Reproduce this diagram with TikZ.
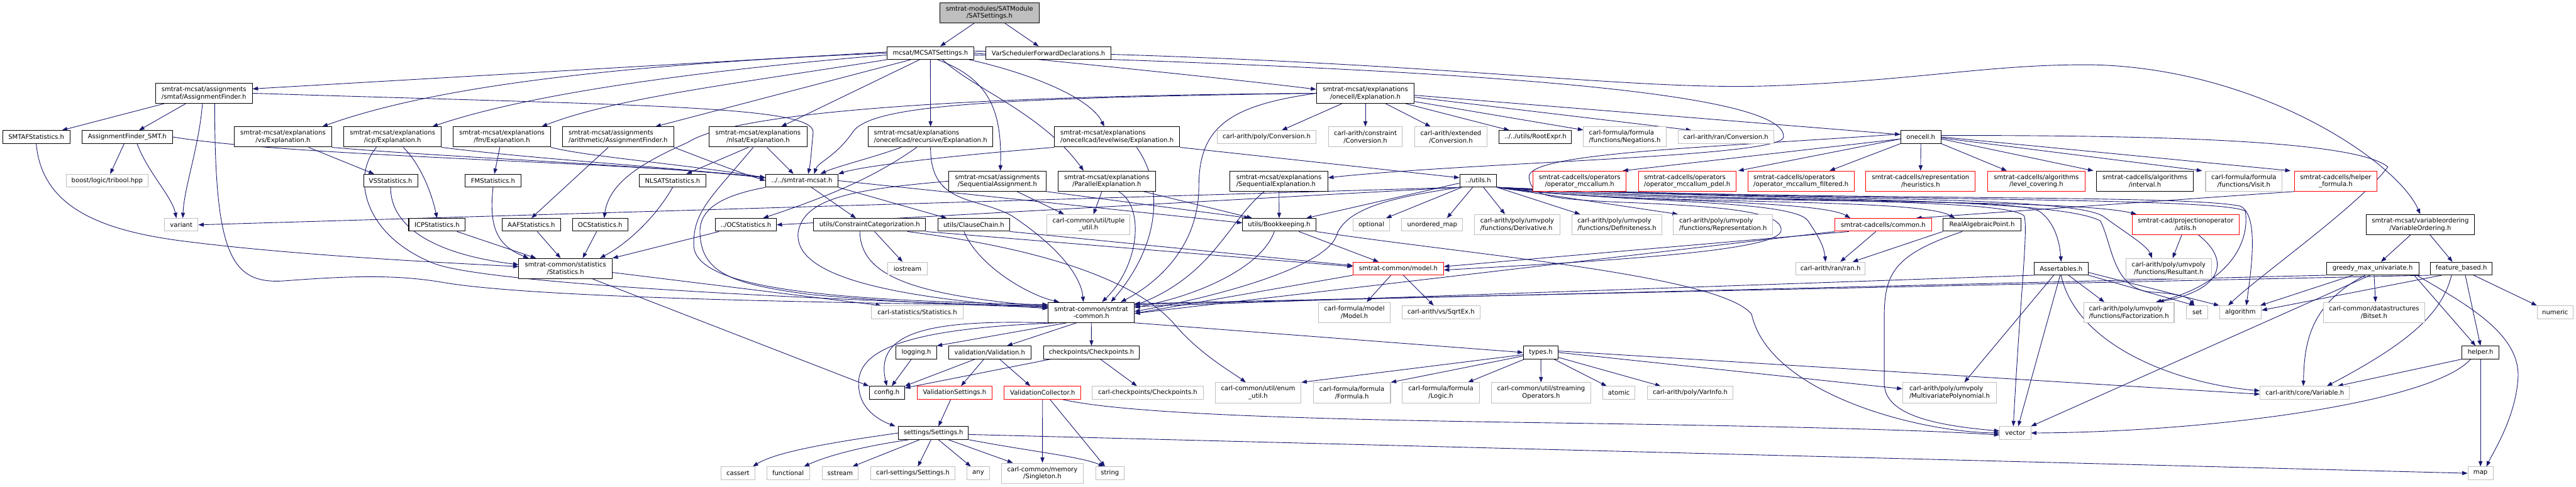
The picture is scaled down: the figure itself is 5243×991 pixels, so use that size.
\documentclass[tikz,border=0pt]{standalone}
\usepackage{fontspec}
\setmainfont{DejaVu Sans}
\usetikzlibrary{arrows.meta}
\pgfdeclarelayer{back}
\pgfdeclarelayer{bg}
\pgfsetlayers{back,bg,main}
\definecolor{edgec}{HTML}{191970}
\definecolor{grayb}{HTML}{BFBFBF}
\begin{document}
\begin{tikzpicture}[x=1bp,y=-1bp,
 every node/.style={font=\fontsize{12.9bp}{15bp}\selectfont, inner sep=1bp, align=center, fill=white},
 bn/.style={draw=black, line width=1.3bp},
 gn/.style={draw=grayb, line width=1.3bp},
 rn/.style={draw=red, line width=1.3bp},
 wd/.style={minimum width=#1bp},
 ht/.style={minimum height=#1bp},
 al/.style={align=left},
 edg/.style={draw=edgec, line width=1.15bp, -{Triangle[length=11bp,width=8bp]}}
]
\useasboundingbox (0,0) rectangle (5243,991);
\begin{pgfonlayer}{back}
\fill[white] (0,0) rectangle (5243,991);
\end{pgfonlayer}
% ---------- nodes ----------
\node[bn,fill=grayb,wd=202,ht=41] (sat) at (2014,26) {smtrat-modules/SATModule\\/SATSettings.h};
\node[bn,wd=177,ht=26] (mcs) at (1893.6,108) {mcsat/MCSATSettings.h};
\node[bn,wd=254,ht=26] (vsf) at (2134,108) {VarSchedulerForwardDeclarations.h};
\node[bn,wd=197,ht=41] (afs) at (415,190) {smtrat-mcsat/assignments\\/smtaf/AssignmentFinder.h};
\node[bn,wd=199,ht=41] (oce) at (2779,190) {smtrat-mcsat/explanations\\/onecell/Explanation.h};
% row 3
\node[bn,wd=137,ht=26] (smtafst) at (73.7,279) {SMTAFStatistics.h};
\node[bn,wd=184,ht=26] (afsmt) at (259,279) {AssignmentFinder\_SMT.h};
\node[bn,wd=198,ht=41] (vse) at (576,279) {smtrat-mcsat/explanations\\/vs/Explanation.h};
\node[bn,wd=198,ht=41] (icpe) at (799,279) {smtrat-mcsat/explanations\\/icp/Explanation.h};
\node[bn,wd=198,ht=41] (fme) at (1021.6,279) {smtrat-mcsat/explanations\\/fm/Explanation.h};
\node[bn,wd=226,ht=41,al] (aaf) at (1258,279) {smtrat-mcsat/assignments\\/arithmetic/AssignmentFinder.h};
\node[bn,wd=199,ht=41] (nle) at (1543,279) {smtrat-mcsat/explanations\\/nlsat/Explanation.h};
\node[bn,wd=253,ht=41,al] (rec) at (1894,279) {smtrat-mcsat/explanations\\/onecellcad/recursive/Explanation.h};
\node[bn,wd=255,ht=41,al] (lvl) at (2273.5,279) {smtrat-mcsat/explanations\\/onecellcad/levelwise/Explanation.h};
\node[gn,wd=202,ht=26] (pconv) at (2578,279) {carl-arith/poly/Conversion.h};
\node[gn,wd=150,ht=41] (cconv) at (2779,279) {carl-arith/constraint\\/Conversion.h};
\node[gn,wd=146,ht=41] (econv) at (2953,279) {carl-arith/extended\\/Conversion.h};
\node[bn,wd=147,ht=26] (rootexpr) at (3125,279) {../../utils/RootExpr.h};
\node[gn,wd=168,ht=41,al] (neg) at (3307,279) {carl-formula/formula\\/functions/Negations.h};
\node[gn,wd=195,ht=26] (rconv) at (3512.6,279) {carl-arith/ran/Conversion.h};
\node[bn,wd=82,ht=26] (onecell) at (3909.5,279) {onecell.h};
% row 4
\node[gn,wd=167,ht=26] (tribool) at (218,368) {boost/logic/tribool.hpp};
\node[bn,wd=110,ht=26] (vsst) at (795,368) {VSStatistics.h};
\node[bn,wd=115,ht=26] (fmst) at (1003.5,368) {FMStatistics.h};
\node[bn,wd=135,ht=26] (nlst) at (1369,368) {NLSATStatistics.h};
\node[bn,wd=147,ht=26] (smcsat) at (1632,368) {../../smtrat-mcsat.h};
\node[bn,wd=198,ht=41] (seqa) at (2030,369) {smtrat-mcsat/assignments\\/SequentialAssignment.h};
\node[bn,wd=199,ht=41] (pare) at (2252.6,369) {smtrat-mcsat/explanations\\/ParallelExplanation.h};
\node[bn,wd=199,ht=41,al] (seqe) at (2603,369) {smtrat-mcsat/explanations\\/SequentialExplanation.h};
\node[bn,wd=75,ht=26] (utils) at (3008.6,368) {../utils.h};
\node[rn,wd=190,ht=41] (mcc) at (3215,369) {smtrat-cadcells/operators\\/operator\_mccallum.h};
\node[rn,wd=198,ht=41,al] (pdel) at (3434,369) {smtrat-cadcells/operators\\/operator\_mccallum\_pdel.h};
\node[rn,wd=217,ht=41,al] (filt) at (3665.7,369) {smtrat-cadcells/operators\\/operator\_mccallum\_filtered.h};
\node[rn,wd=223,ht=41] (heur) at (3909,369) {smtrat-cadcells/representation\\/heuristics.h};
\node[rn,wd=198,ht=41] (lcov) at (4144.6,369) {smtrat-cadcells/algorithms\\/level\_covering.h};
\node[bn,wd=197,ht=41] (intv) at (4365.6,369) {smtrat-cadcells/algorithms\\/interval.h};
\node[gn,wd=156,ht=41] (visit) at (4567,369) {carl-formula/formula\\/functions/Visit.h};
\node[rn,wd=168,ht=41] (hform) at (4754,369) {smtrat-cadcells/helper\\\_formula.h};
% row 5
\node[gn,wd=68,ht=26] (variant) at (369,458) {variant};
\node[bn,wd=115,ht=26] (icpst) at (889.5,458) {ICPStatistics.h};
\node[bn,wd=119,ht=26] (aafst) at (1081.5,458) {AAFStatistics.h};
\node[bn,wd=113,ht=26] (ocst) at (1221.5,458) {OCStatistics.h};
\node[bn,wd=124,ht=26] (docst) at (1518,458) {../OCStatistics.h};
\node[bn,wd=228,ht=26] (ccat) at (1770,458) {utils/ConstraintCategorization.h};
\node[bn,wd=146,ht=26] (cchain) at (1982,458) {utils/ClauseChain.h};
\node[gn,wd=169,ht=41] (tuple) at (2215.6,457.5) {carl-common/util/tuple\\\_util.h};
\node[bn,wd=149,ht=26] (bk) at (2603.6,458) {utils/Bookkeeping.h};
\node[gn,wd=74,ht=26] (optional) at (2791,458) {optional};
\node[gn,wd=124,ht=26] (umap) at (2915,458) {unordered\_map};
\node[gn,wd=174,ht=41,al] (deriv) at (3088,457.5) {carl-arith/poly/umvpoly\\/functions/Derivative.h};
\node[gn,wd=182,ht=41,al] (defin) at (3291,457.5) {carl-arith/poly/umvpoly\\/functions/Definiteness.h};
\node[gn,wd=202,ht=41,al] (repr) at (3507,457.5) {carl-arith/poly/umvpoly\\/functions/Representation.h};
\node[rn,wd=196,ht=26] (ccommon) at (3833,458) {smtrat-cadcells/common.h};
\node[bn,wd=158,ht=26] (rap) at (4034,458) {RealAlgebraicPoint.h};
\node[rn,wd=217,ht=41] (projutils) at (4448.5,457.5) {smtrat-cad/projectionoperator\\/utils.h};
\node[bn,wd=221,ht=41] (vord) at (4926,457.5) {smtrat-mcsat/variableordering\\/VariableOrdering.h};
% row 6
\node[bn,wd=190,ht=41] (stats) at (1151,547) {smtrat-common/statistics\\/Statistics.h};
\node[gn,wd=80,ht=26] (iostream) at (1847,547) {iostream};
\node[rn,wd=184,ht=26] (model) at (2846,547) {smtrat-common/model.h};
\node[gn,wd=141,ht=26] (ran) at (3725.6,547) {carl-arith/ran/ran.h};
\node[bn,wd=110,ht=26] (assert) at (4195,547) {Assertables.h};
\node[gn,wd=175,ht=41] (result) at (4414,547) {carl-arith/poly/umvpoly\\/functions/Resultant.h};
\node[bn,wd=188,ht=26] (greedy) at (4829,547) {greedy\_max\_univariate.h};
\node[bn,wd=126,ht=26] (feat) at (5009.6,547) {feature\_based.h};
% row 7
\node[gn,wd=186,ht=26] (cstat) at (1867,636) {carl-statistics/Statistics.h};
\node[bn,wd=175,ht=41] (scommon) at (2221,636.5) {smtrat-common/smtrat\\-common.h};
\node[gn,wd=145,ht=41] (cmodel) at (2756.6,636.5) {carl-formula/model\\/Model.h};
\node[gn,wd=158,ht=26] (sqrt) at (2933,636) {carl-arith/vs/SqrtEx.h};
\node[gn,wd=184,ht=41,al] (fact) at (4333,636.5) {carl-arith/poly/umvpoly\\/functions/Factorization.h};
\node[gn,wd=43,ht=26] (set) at (4472,636) {set};
\node[gn,wd=85,ht=26] (algo) at (4560,636) {algorithm};
\node[gn,wd=206,ht=41] (bitset) at (4832,636.5) {carl-common/datastructures\\/Bitset.h};
\node[gn,wd=73,ht=26] (numeric) at (5200.5,636) {numeric};
% row 8
\node[bn,wd=82,ht=26] (logging) at (1865,718) {logging.h};
\node[bn,wd=167,ht=26] (valid) at (2014.5,718) {validation/Validation.h};
\node[bn,wd=195,ht=26] (chk) at (2221.6,718) {checkpoints/Checkpoints.h};
\node[bn,wd=71,ht=26] (types) at (3136,718) {types.h};
\node[bn,wd=75,ht=26] (helper) at (5048.6,718) {helper.h};
% row 9
\node[bn,wd=72,ht=26] (config) at (1805,800) {config.h};
\node[rn,wd=152,ht=26] (vsett) at (1943,800) {ValidationSettings.h};
\node[rn,wd=156,ht=26] (vcoll) at (2122,800) {ValidationCollector.h};
\node[gn,wd=226,ht=26] (cchk) at (2336,800) {carl-checkpoints/Checkpoints.h};
\node[gn,wd=175,ht=41] (enum) at (2560.6,800) {carl-common/util/enum\\\_util.h};
\node[gn,wd=157,ht=41] (formula) at (2751.6,800) {carl-formula/formula\\/Formula.h};
\node[gn,wd=157,ht=41] (logic) at (2932.6,800) {carl-formula/formula\\/Logic.h};
\node[gn,wd=203,ht=41] (stream) at (3136.6,800) {carl-common/util/streaming\\Operators.h};
\node[gn,wd=66,ht=26] (atomic) at (3295,800) {atomic};
\node[gn,wd=175,ht=26] (varinfo) at (3440,800) {carl-arith/poly/VarInfo.h};
\node[gn,wd=191,ht=41,al] (mvpoly) at (3968,800) {carl-arith/poly/umvpoly\\/MultivariatePolynomial.h};
\node[gn,wd=182,ht=26] (variable) at (4691,800) {carl-arith/core/Variable.h};
% row 10
\node[bn,wd=142,ht=26] (settings) at (1900,882) {settings/Settings.h};
\node[gn,wd=63,ht=26] (vector) at (4101.7,882) {vector};
% row 11
\node[gn,wd=69,ht=26] (cassert) at (1502,964) {cassert};
\node[gn,wd=87,ht=26] (functional) at (1604,964) {functional};
\node[gn,wd=74,ht=26] (sstream) at (1710,964) {sstream};
\node[gn,wd=172,ht=26] (csett) at (1858,964) {carl-settings/Settings.h};
\node[gn,wd=47,ht=26] (any) at (1991,964) {any};
\node[gn,wd=167,ht=41] (singleton) at (2121.6,964) {carl-common/memory\\/Singleton.h};
\node[gn,wd=58,ht=26] (string) at (2259,964) {string};
\node[gn,wd=51,ht=26] (map) at (5048.6,964) {map};

% ---------- edges ----------
\begin{pgfonlayer}{bg}
% top
\draw[edg] (sat) -- (mcs);
\draw[edg] (sat) -- (vsf);
% MCSATSettings
\draw[edg] ([yshift=2bp]mcs.west) -- ([yshift=9bp]afs.east);
\draw[edg] (mcs.west) .. controls (1300,130) and (900,170) .. ([xshift=80bp]vse.north);
\draw[edg] ([yshift=-4bp]mcs.west) .. controls (1350,150) and (1050,200) .. ([xshift=81bp]icpe.north);
\draw[edg] (mcs.south west) .. controls (1500,170) and (1250,200) .. ([xshift=81bp]fme.north);
\draw[edg] ([xshift=-40bp]mcs.south) -- ([xshift=76bp]aaf.north);
\draw[edg] ([xshift=-22bp]mcs.south) -- ([xshift=47bp]nle.north);
\draw[edg] (mcs.south) -- (rec.north);
\draw[edg] ([xshift=15bp]mcs.south) .. controls (2010,160) and (2040,220) .. ([xshift=6bp]seqa.north);
\draw[edg] ([xshift=25bp]mcs.south) .. controls (1980,180) and (2120,230) .. ([xshift=-47bp]pare.north);
\draw[edg] ([xshift=-10bp]mcs.south east) .. controls (2100,150) and (2220,200) .. ([xshift=-26bp]lvl.north);
\draw[edg] (mcs.east) .. controls (2200,130) and (2500,160) .. ([yshift=8bp]oce.west);
\draw[edg] ([yshift=-4bp]mcs.east) .. controls (2900,140) and (3640,180) .. (3630,280) .. controls (3620,320) and (3000,330) .. ([yshift=7bp]seqe.east);
\draw[edg] ([yshift=4bp]mcs.east) .. controls (2900,120) and (3300,185) .. (3600,175) .. controls (3900,165) and (4050,130) .. (4260,132) .. controls (4600,140) and (4880,330) .. (vord.north);
% smtaf AssignmentFinder
\draw[edg] (afs) -- (smtafst);
\draw[edg] (afs) -- (afsmt);
\draw[edg] ([xshift=-3bp]afs.south) .. controls (405,300) and (375,380) .. ([xshift=3bp]variant.north);
\draw[edg] ([xshift=22bp]afs.south) .. controls (437,520) and (470,580) .. (580,572) .. controls (700,563) and (800,558) .. (900,575) .. controls (1100,610) and (1800,618) .. ([yshift=14bp]scommon.west);
\draw[edg] (afs.east) .. controls (1300,215) and (1660,215) .. (1655,270) .. controls (1652,300) and (1650,330) .. ([xshift=13bp]smcsat.north);
\draw[edg] (smtafst.south) .. controls (85,420) and (200,470) .. (380,492) .. controls (600,520) and (900,535) .. ([yshift=4bp]stats.west);
% AssignmentFinder_SMT
\draw[edg] (afsmt) -- (tribool);
\draw[edg] ([xshift=20bp]afsmt.south) .. controls (300,350) and (350,400) .. ([xshift=-10bp]variant.north);
\draw[edg] (afsmt.east) .. controls (600,320) and (1300,330) .. ([yshift=6bp]smcsat.west);
% vs icp fm aaf
\draw[edg] (vse) -- (vsst);
\draw[edg] (vse.south east) .. controls (900,320) and (1300,335) .. ([yshift=6bp]smcsat.west);
\draw[edg] ([xshift=22bp]icpe.south) .. controls (860,340) and (880,400) .. (icpst.north);
\draw[edg] ([xshift=-33bp]icpe.south) .. controls (715,360) and (740,480) .. (884,537) .. controls (1000,580) and (1700,612) .. ([yshift=12bp]scommon.west);
\draw[edg] (icpe.south east) .. controls (1100,325) and (1300,335) .. ([yshift=6bp]smcsat.west);
\draw[edg] (fme) -- (fmst);
\draw[edg] (fme.south east) .. controls (1200,320) and (1400,335) .. ([yshift=6bp]smcsat.west);
\draw[edg] ([xshift=-20bp]aaf.south) -- (aafst.north);
\draw[edg] (aaf.south east) .. controls (1450,330) and (1500,350) .. (smcsat.west);
% nlsat
\draw[edg] ([xshift=-20bp]nle.south) -- ([xshift=28bp]nlst.north);
\draw[edg] ([xshift=18bp]nle.south) -- ([xshift=-17bp]smcsat.north);
\draw[edg] ([xshift=-10bp]nle.south) .. controls (1450,400) and (1410,430) .. (1412,500) .. controls (1415,590) and (1700,612) .. ([yshift=16bp]scommon.west);
% recursive / levelwise
\draw[edg] ([xshift=-60bp]rec.south) .. controls (1780,320) and (1700,340) .. ([xshift=38bp]smcsat.north);
\draw[edg] ([xshift=-28bp]rec.south) .. controls (1780,360) and (1700,395) .. ([xshift=35bp]docst.north);
\draw[edg] (rec.south) .. controls (1893,420) and (1990,400) .. (2060,440) .. controls (2150,500) and (2200,560) .. ([xshift=-16bp]scommon.north);
\draw[edg] (lvl.south west) .. controls (1900,320) and (1750,340) .. (smcsat.north east);
\draw[edg] (lvl.south east) -- ([yshift=6bp]utils.west);
\draw[edg] ([xshift=40bp]lvl.south) .. controls (2370,380) and (2360,500) .. ([xshift=40bp]scommon.north);
% onecell Explanation
\draw[edg] (oce) -- (pconv);
\draw[edg] (oce) -- (cconv);
\draw[edg] (oce) -- (econv);
\draw[edg] (oce) -- (rootexpr);
\draw[edg] (oce) -- (neg);
\draw[edg] ([yshift=-8bp]oce.east) -- ([xshift=-70bp]rconv.north);
\draw[edg] ([yshift=-4bp]oce.east) -- ([yshift=5bp]onecell.west);
\draw[edg] (oce.west) .. controls (2000,200) and (1770,215) .. (1735,270) .. controls (1700,320) and (1665,330) .. ([xshift=25bp]smcsat.north);
\draw[edg] (oce.west) .. controls (2000,195) and (1500,225) .. (1400,290) .. controls (1310,330) and (1240,370) .. ([xshift=8bp]ocst.north);
\draw[edg] (oce.west) .. controls (2500,215) and (2440,260) .. (2440,380) .. controls (2440,520) and (2330,590) .. ([xshift=60bp]scommon.north);
% onecell.h
\draw[edg] ([yshift=-4bp]onecell.west) -- ([xshift=-8bp]mcc.north east);
\draw[edg] ([yshift=-4bp]onecell.west) -- ([xshift=104bp]pdel.north);
\draw[edg] (onecell.south west) -- ([xshift=58bp]filt.north);
\draw[edg] (onecell.south) -- (heur.north);
\draw[edg] (onecell.south east) -- ([xshift=-60bp]lcov.north);
\draw[edg] ([yshift=-4bp]onecell.east) -- ([xshift=-105bp]intv.north);
\draw[edg] ([yshift=-2bp]onecell.east) -- ([xshift=-85bp]visit.north);
\draw[edg] (onecell.east) -- ([xshift=-92bp]hform.north);
\draw[edg] ([yshift=3bp]onecell.east) .. controls (4450,275) and (4800,290) .. (4860,340) .. controls (4800,420) and (4600,560) .. ([xshift=-25bp]algo.north);
\draw[edg] ([yshift=6bp]onecell.west) .. controls (3500,300) and (3110,310) .. (3112,360) .. controls (3115,400) and (3150,405) .. (3300,412) .. controls (3500,420) and (3630,430) .. (3625,470) .. controls (3620,510) and (3300,530) .. ([yshift=-3bp]model.east);
% statistics
\draw[edg] (vsst.south) .. controls (795,470) and (900,520) .. ([yshift=8bp]stats.west);
\draw[edg] (fmst.south) .. controls (995,460) and (1010,500) .. ([xshift=-75bp]stats.north);
\draw[edg] (icpst) -- ([xshift=-60bp]stats.north);
\draw[edg] (aafst) -- ([xshift=-10bp]stats.north);
\draw[edg] (ocst) -- ([xshift=35bp]stats.north);
\draw[edg] (nlst.south) .. controls (1330,450) and (1270,500) .. ([xshift=70bp]stats.north);
\draw[edg] (docst) -- (stats.north east);
\draw[edg] ([yshift=-8bp]stats.east) -- ([xshift=20bp]cstat.north west);
\draw[edg] ([xshift=55bp]stats.south) -- (config.north west);
% smtrat-mcsat.h
\draw[edg] (smcsat.east) -- ([yshift=4bp]bk.west);
\draw[edg] (smcsat) -- ([xshift=-28bp]ccat.north);
\draw[edg] (smcsat.south east) -- ([xshift=-55bp]cchain.north);
\draw[edg] (smcsat.south west) .. controls (1460,400) and (1420,430) .. (1425,480) .. controls (1430,560) and (1500,580) .. (1650,600) .. controls (1850,618) and (2000,622) .. ([yshift=10bp]scommon.west);
% assignments / parallel / sequential
\draw[edg] ([xshift=40bp]seqa.south) -- ([xshift=-50bp]tuple.north);
\draw[edg] (seqa.south east) -- ([xshift=-60bp]bk.north);
\draw[edg] (seqa.west) .. controls (1750,385) and (1640,400) .. (1625,470) .. controls (1610,560) and (1800,605) .. ([yshift=8bp]scommon.west);
\draw[edg] ([xshift=-10bp]pare.south) -- ([xshift=10bp]tuple.north);
\draw[edg] ([xshift=24bp]pare.south) .. controls (2330,420) and (2320,540) .. ([xshift=22bp]scommon.north);
\draw[edg] ([xshift=-25bp]pare.south east) -- ([xshift=-55bp]bk.north);
\draw[edg] (seqe) -- (bk);
\draw[edg] ([xshift=-30bp]seqe.south) .. controls (2500,450) and (2470,560) .. ([yshift=14bp]scommon.east);
% Bookkeeping
\draw[edg] ([xshift=-10bp]bk.south) .. controls (2570,540) and (2450,600) .. ([yshift=10bp]scommon.east);
\draw[edg] ([xshift=40bp]bk.south) -- ([xshift=-40bp]model.north);
\draw[edg] (bk.south east) .. controls (3000,520) and (3500,560) .. (3565,640) .. controls (3600,800) and (3900,880) .. ([yshift=0bp]vector.west);
% utils.h
\draw[edg] (utils.south west) -- (variant.east);
\draw[edg] (utils.south west) -- (docst.east);
\draw[edg] ([yshift=-5bp]utils.west) -- ([xshift=55bp]bk.north);
\draw[edg] (utils) -- ([xshift=30bp]optional.north);
\draw[edg] (utils) -- ([xshift=30bp]umap.north);
\draw[edg] (utils) -- ([xshift=-25bp]deriv.north);
\draw[edg] (utils.south east) -- ([xshift=-75bp]defin.north);
\draw[edg] (utils.south east) -- ([xshift=-92bp]repr.north);
\draw[edg] (utils.south east) .. controls (3250,412) and (3700,405) .. ([xshift=-67bp]ccommon.north);
\draw[edg] (utils.south east) .. controls (3300,415) and (3650,405) .. (3680,450) .. controls (3700,480) and (3712,500) .. ([xshift=-10bp]ran.north);
\draw[edg] (utils.south east) .. controls (3300,420) and (3900,400) .. ([xshift=-55bp]rap.north);
\draw[edg] (utils.south east) .. controls (3400,420) and (4200,400) .. ([xshift=-100bp]projutils.north);
\draw[edg] (utils.south east) .. controls (3500,415) and (4100,400) .. (4150,430) .. controls (4180,450) and (4192,490) .. (assert.north);
\draw[edg] (utils.south east) .. controls (3500,415) and (4080,400) .. (4120,440) .. controls (4128,470) and (4112,600) .. ([xshift=-4bp]vector.north);
\draw[edg] (utils.south east) .. controls (3600,410) and (4200,395) .. (4280,440) .. controls (4320,470) and (4370,500) .. ([xshift=-34bp]result.north);
\draw[edg] (utils.south east) .. controls (3600,410) and (4180,400) .. (4275,450) .. controls (4300,500) and (4300,590) .. (4380,595) .. controls (4430,598) and (4455,605) .. ([xshift=-6bp]set.north);
\draw[edg] (utils.south east) .. controls (3700,410) and (4450,395) .. (4560,420) .. controls (4600,440) and (4580,560) .. ([xshift=12bp]algo.north);
\draw[edg] (utils.south east) .. controls (3700,410) and (4520,400) .. (4570,430) .. controls (4580,500) and (4530,580) .. ([xshift=55bp]fact.north);
\draw[edg] (utils.south west) .. controls (2850,400) and (2740,420) .. (2720,480) .. controls (2700,540) and (2500,600) .. ([yshift=2bp]scommon.east);
% model
\draw[edg] ([xshift=-15bp]model.south) -- ([xshift=25bp]cmodel.north);
\draw[edg] ([xshift=10bp]model.south) -- ([xshift=-15bp]sqrt.north);
\draw[edg] (model.south west) -- ([yshift=-2bp]scommon.east);
% ConstraintCategorization / ClauseChain
\draw[edg] ([xshift=10bp]ccat.south) -- ([xshift=-10bp]iostream.north);
\draw[edg] ([xshift=-20bp]ccat.south) .. controls (1752,560) and (1850,600) .. ([yshift=12bp]scommon.west);
\draw[edg] (ccat.south east) -- ([yshift=4bp]model.west);
\draw[edg] ([xshift=77bp]ccat.south) .. controls (2150,510) and (2320,580) .. (2390,660) .. controls (2440,720) and (2510,760) .. ([xshift=-25bp]enum.north);
\draw[edg] ([xshift=-20bp]cchain.south) .. controls (1990,540) and (2090,600) .. ([xshift=-65bp]scommon.north);
\draw[edg] (cchain.south east) -- ([yshift=6bp]model.west);
% smtrat-common.h
\draw[edg] (scommon.south east) -- (types.west);
\draw[edg] ([xshift=-50bp]scommon.south) -- (logging.north east);
\draw[edg] ([xshift=-30bp]scommon.south) -- ([xshift=35bp]valid.north);
\draw[edg] (scommon) -- (chk);
\draw[edg] (scommon.south west) .. controls (1880,650) and (1780,680) .. (config.north);
\draw[edg] ([xshift=-70bp]scommon.south) .. controls (1820,670) and (1740,720) .. (1748,790) .. controls (1752,840) and (1800,860) .. ([xshift=-6bp]settings.north west);
% types.h
\draw[edg] (types) -- (enum.north east);
\draw[edg] (types) -- (formula.north east);
\draw[edg] (types) -- ([xshift=55bp]logic.north);
\draw[edg] (types) -- (stream);
\draw[edg] (types) -- ([xshift=-25bp]atomic.north);
\draw[edg] (types) -- ([xshift=-60bp]varinfo.north);
\draw[edg] (types.east) -- ([yshift=8bp]mvpoly.west);
\draw[edg] ([yshift=3bp]types.east) -- ([yshift=-3bp]variable.west);
% validation / checkpoints
\draw[edg] (logging) -- ([xshift=10bp]config.north);
\draw[edg] ([xshift=-30bp]valid.south) -- (config.north east);
\draw[edg] ([xshift=-12bp]valid.south) -- ([xshift=13bp]vsett.north);
\draw[edg] ([xshift=20bp]valid.south) -- ([xshift=-25bp]vcoll.north);
\draw[edg] ([xshift=15bp]chk.south west) -- ([yshift=-4bp]config.north east);
\draw[edg] ([xshift=18bp]chk.south) -- ([xshift=-22bp]cchk.north);
\draw[edg] ([xshift=-8bp]vsett.south) -- ([xshift=10bp]settings.north);
\draw[edg] (vcoll) -- (singleton);
\draw[edg] ([xshift=15bp]vcoll.south) -- ([xshift=-10bp]string.north);
\draw[edg] ([xshift=40bp]vcoll.south) .. controls (2300,845) and (2700,855) .. (3200,862) .. controls (3600,868) and (3900,875) .. ([yshift=-4bp]vector.west);
% settings
\draw[edg] (settings.west) .. controls (1700,900) and (1580,920) .. ([xshift=-5bp]cassert.north east);
\draw[edg] ([xshift=-50bp]settings.south) .. controls (1750,910) and (1680,930) .. ([xshift=-12bp]functional.north east);
\draw[edg] ([xshift=-28bp]settings.south) -- ([xshift=25bp]sstream.north);
\draw[edg] ([xshift=-5bp]settings.south) -- ([xshift=10bp]csett.north);
\draw[edg] ([xshift=10bp]settings.south) -- ([xshift=-15bp]any.north);
\draw[edg] ([xshift=30bp]settings.south) -- ([xshift=-60bp]singleton.north);
\draw[edg] (settings.south east) .. controls (2100,920) and (2200,930) .. ([xshift=-12bp]string.north);
\draw[edg] ([yshift=-3bp]settings.east) -- (map.west);
% cadcells common / RAP / helper formula / projutils
\draw[edg] ([xshift=-15bp]ccommon.south) -- ([xshift=20bp]ran.north);
\draw[edg] ([xshift=-70bp]ccommon.south) -- ([yshift=4bp]model.east);
\draw[edg] (ccommon.south west) -- ([yshift=-2bp]scommon.east);
\draw[edg] (rap.south west) -- ([xshift=45bp]ran.north);
\draw[edg] ([xshift=-40bp]rap.south) .. controls (3850,520) and (3835,560) .. (3835,650) -- (3835,780) .. controls (3835,840) and (3920,865) .. ([yshift=4bp]vector.west);
\draw[edg] (hform.south west) -- ([xshift=67bp]ccommon.north);
\draw[edg] ([xshift=-8bp]projutils.south) -- ([xshift=8bp]result.north);
\draw[edg] ([xshift=26bp]projutils.south) .. controls (4540,530) and (4525,590) .. ([xshift=60bp]fact.north);
% Assertables
\draw[edg] ([xshift=-15bp]assert.south) -- ([xshift=30bp]mvpoly.north);
\draw[edg] ([xshift=-2bp]assert.south) -- ([xshift=6bp]vector.north);
\draw[edg] ([xshift=15bp]assert.south) -- ([xshift=-50bp]fact.north);
\draw[edg] (assert.south east) -- ([xshift=-5bp]set.north);
\draw[edg] ([yshift=-8bp]assert.east) -- (algo.north west);
\draw[edg] (assert.south) .. controls (4225,700) and (4420,780) .. ([yshift=4bp]variable.west);
\draw[edg] (assert.south west) -- ([yshift=12bp]scommon.east);
% variable ordering
\draw[edg] ([xshift=-20bp]vord.south) -- ([xshift=17bp]greedy.north);
\draw[edg] ([xshift=20bp]vord.south) -- ([xshift=-18bp]feat.north);
\draw[edg] ([xshift=-40bp]greedy.south) -- ([xshift=-3bp]algo.north east);
\draw[edg] ([xshift=3bp]greedy.south) -- ([xshift=3bp]bitset.north);
\draw[edg] ([xshift=-5bp]greedy.south) -- (vector.north east);
\draw[edg] ([xshift=-15bp]greedy.south) .. controls (4700,620) and (4690,700) .. ([xshift=-3bp]variable.north);
\draw[edg] ([xshift=-10bp]greedy.south east) -- ([xshift=-10bp]helper.north);
\draw[edg] ([xshift=-5bp]greedy.south east) .. controls (5020,620) and (5130,680) .. (5125,770) .. controls (5120,850) and (5075,920) .. ([xshift=12bp]map.north);
\draw[edg] (greedy.south west) -- ([yshift=16bp]scommon.east);
\draw[edg] ([xshift=25bp]feat.south) -- (numeric.north west);
\draw[edg] ([xshift=8bp]feat.south) -- (helper.north);
\draw[edg] ([xshift=-40bp]feat.south) -- ([yshift=4bp]algo.east);
\draw[edg] ([xshift=-20bp]feat.south) .. controls (4970,640) and (4900,700) .. ([xshift=45bp]variable.north);
\draw[edg] (feat.south west) -- ([yshift=18bp]scommon.east);
% helper
\draw[edg] (helper.south west) -- ([xshift=-25bp]variable.north east);
\draw[edg] ([xshift=-20bp]helper.south) .. controls (4950,820) and (4500,880) .. (vector.east);
\draw[edg] (helper) -- (map);
\end{pgfonlayer}
\end{tikzpicture}
\end{document}
